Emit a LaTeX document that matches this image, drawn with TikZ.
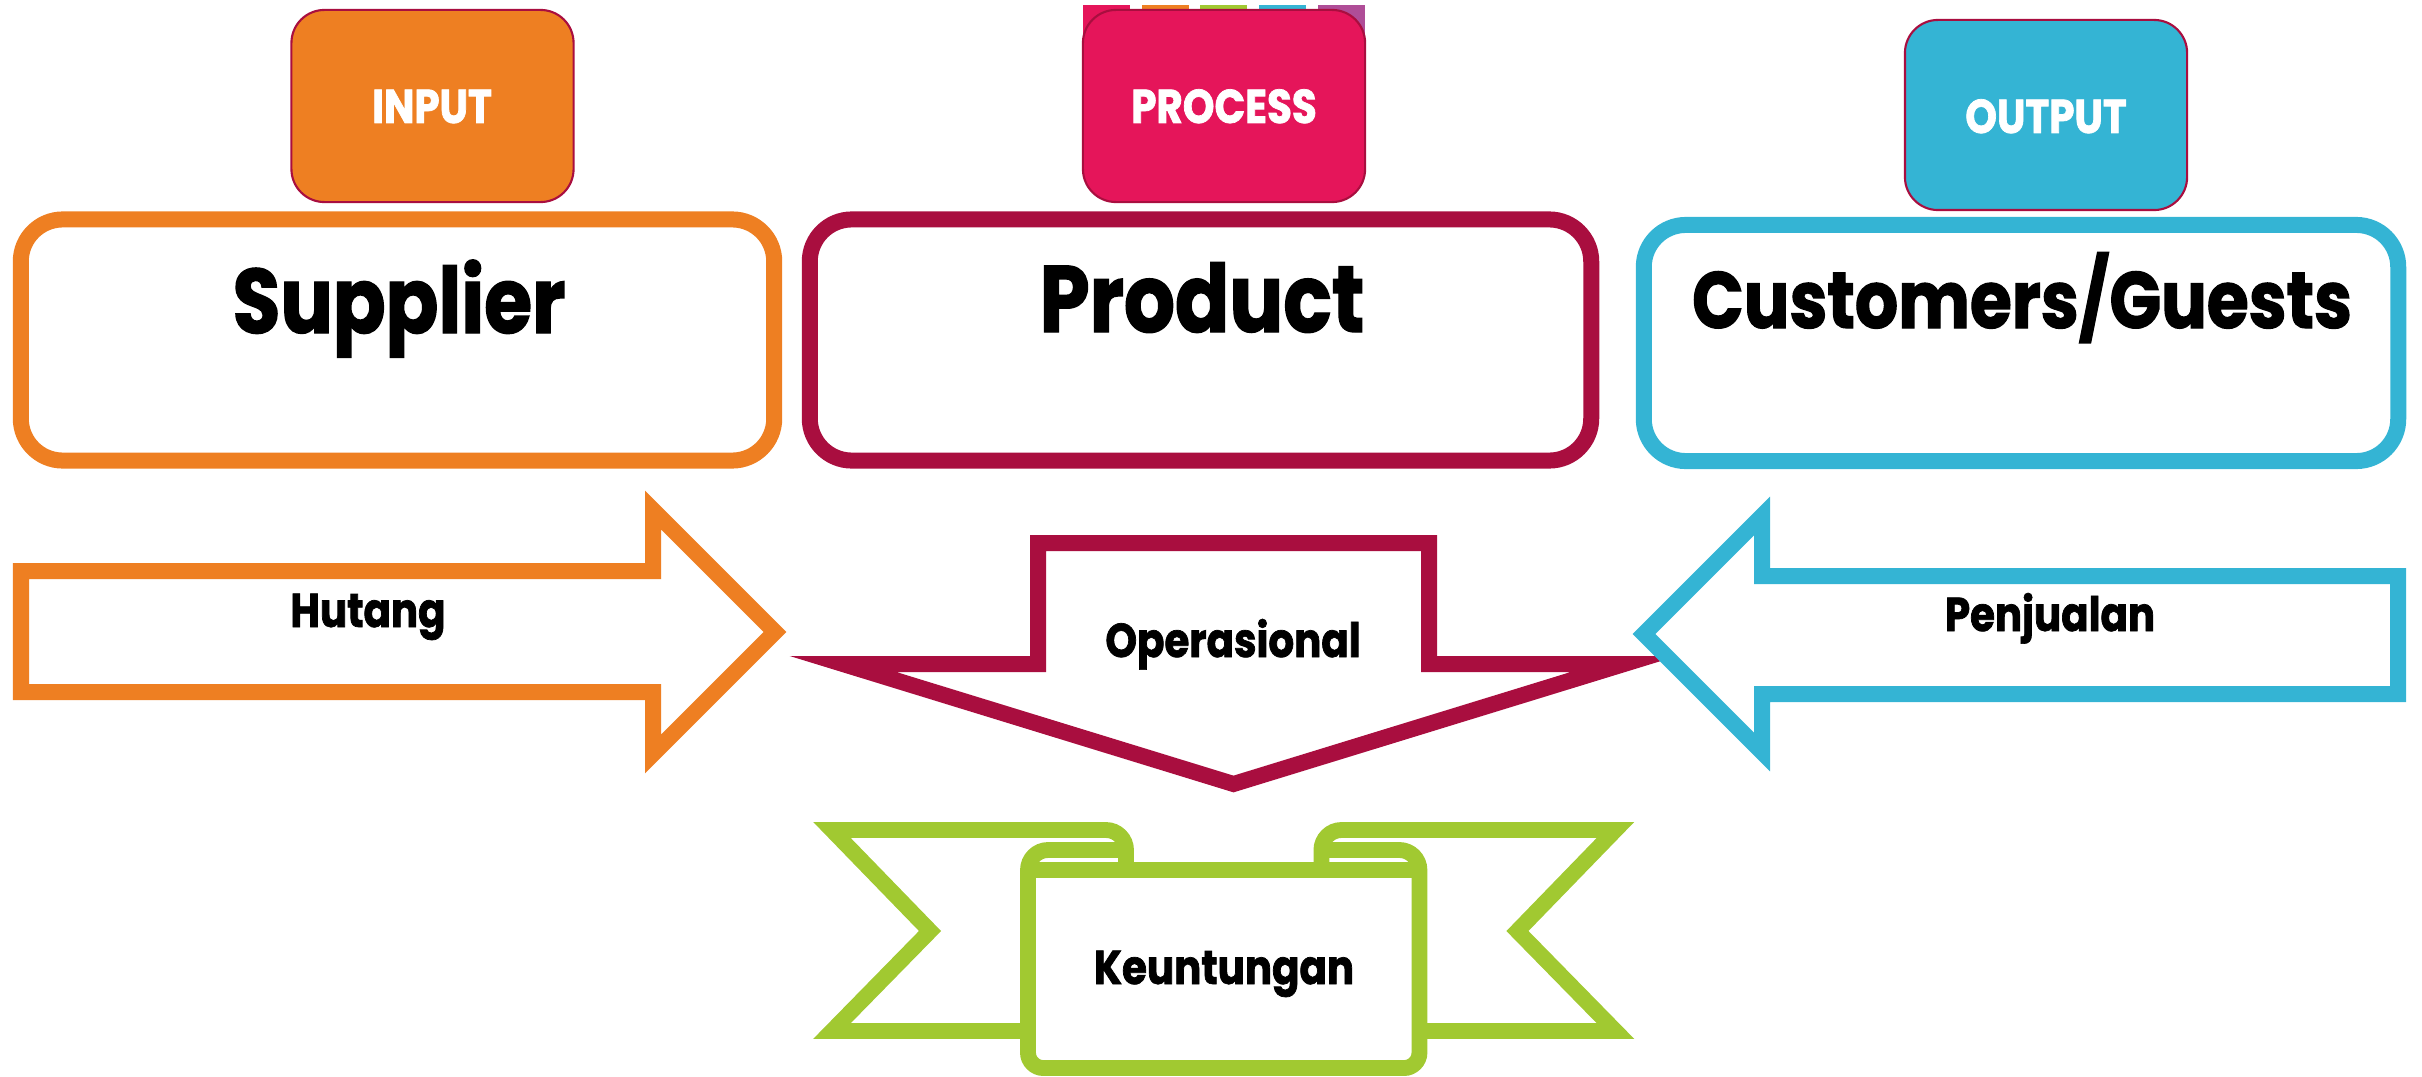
\documentclass[tikz,border=0pt]{standalone}
\usepackage{fontspec}
\usepackage{tikz}
\setmainfont{Poppins}[FakeStretch=0.85, BoldFeatures={FakeBold=1.5}]
\definecolor{inorange}{RGB}{238,127,34}
\definecolor{procred}{RGB}{169,14,63}
\definecolor{procpink}{RGB}{229,21,90}
\definecolor{outblue}{RGB}{52,180,212}
\definecolor{profgreen}{RGB}{161,201,49}
\definecolor{tabpurple}{RGB}{175,77,151}
\tikzset{
  headbox/.style={draw=procred, line width=0.6pt, rounded corners=0.33cm, minimum width=2.82cm, minimum height=1.92cm},
  bigbox/.style={line width=4.55pt, rounded corners=0.42cm, fill=white, minimum height=2.41cm},
  headtext/.style={text=white, font=\bfseries\fontsize{13.5}{15}\selectfont, anchor=base},
  bigtext/.style={font=\bfseries\fontsize{26}{28}\selectfont, anchor=base},
  arrowtext/.style={font=\bfseries\fontsize{13.5}{15}\selectfont, anchor=base},
  blockarrow/.style={line width=4.55pt, fill=white, miter limit=10},
  ribbon/.style={draw=profgreen, line width=4.5pt}
}
\begin{document}
\begin{tikzpicture}[x=0.01cm,y=-0.01cm]
		\useasboundingbox (0,0) rectangle (2422,1076);
		% colour strips behind the process box
		\foreach \xa/\col in {1083/procpink,1142/inorange,1200/profgreen,1259/outblue,1318/tabpurple}
			\fill[\col] (\xa,5) rectangle ++(47,35);
		\node[headbox, fill=inorange] (input) at (432.5,106) {};
		\node[headbox, fill=procpink] (process) at (1224,106) {};
		\node[headbox, fill=outblue, minimum height=1.90cm] (output) at (2046,115) {};
		\node[headtext] (inputtxt) at (432,123) {INPUT};
		\node[headtext] (processtxt) at (1224,123) {PROCESS};
		\node[headtext] (outputtxt) at (2046,133) {OUTPUT};
		% big boxes
		\node[bigbox, draw=inorange, minimum width=7.53cm] (supplier) at (397.5,340) {};
		\node[bigbox, draw=procred, minimum width=7.81cm] (product) at (1200.5,340) {};
		\node[bigbox, draw=outblue, minimum width=7.54cm, minimum height=2.36cm] (customer) at (2021,343) {};
		\node[bigtext] (suppliertxt) at (399,333) {Supplier};
		\node[bigtext, font=\bfseries\fontsize{26.8}{28}\selectfont] (producttxt) at (1202,332) {Product};
		\node[bigtext, font=\bfseries\fontsize{22.7}{25}\selectfont] (customertxt) at (2022,328) {Customers/Guests};
		% block arrows
		\draw[blockarrow, draw=procred] (1038,543) -- (1429,543) -- (1429,664) -- (1624,664) -- (1233.5,784) -- (843,664) -- (1038,664) -- cycle;
		\draw[blockarrow, draw=inorange] (21,571) -- (653,571) -- (653,510) -- (775,632) -- (653,754) -- (653,692) -- (21,692) -- cycle;
		\draw[blockarrow, draw=outblue] (2398,576) -- (1762,576) -- (1762,516) -- (1644,634) -- (1762,752) -- (1762,694) -- (2398,694) -- cycle;
		\node[arrowtext] (hutang) at (368,627) {Hutang};
		\node[arrowtext] (penjualan) at (2050,631) {Penjualan};
		\node[arrowtext] (operasional) at (1233,657) {Operasional};
		% ribbon
		\foreach \sh/\sc in {0cm/1,24.46cm/-1}{
			\begin{scope}[xshift=\sh, xscale=\sc]
				\draw[ribbon, miter limit=10] (1028,1031) -- (832,1031) -- (930,931) -- (832,830) -- (1106,830) .. controls (1117,830) and (1126,839) .. (1126,850) -- (1126,862);
			\end{scope}
		}
		\fill[white] (1028,870) rectangle (1419,1068);
		\foreach \sh/\sc in {0cm/1,24.46cm/-1}{
			\begin{scope}[xshift=\sh, xscale=\sc]
				\draw[ribbon] (1126,850) -- (1048,850) .. controls (1037,850) and (1028,859) .. (1028,870) -- (1028,1053) .. controls (1028,1061) and (1035,1068) .. (1043,1068) -- (1232,1068);
			\end{scope}
		}
		\draw[ribbon] (1028,870) -- (1418,870);
		\node[arrowtext] (keuntungan) at (1224,984) {Keuntungan};
\end{tikzpicture}
\end{document}
